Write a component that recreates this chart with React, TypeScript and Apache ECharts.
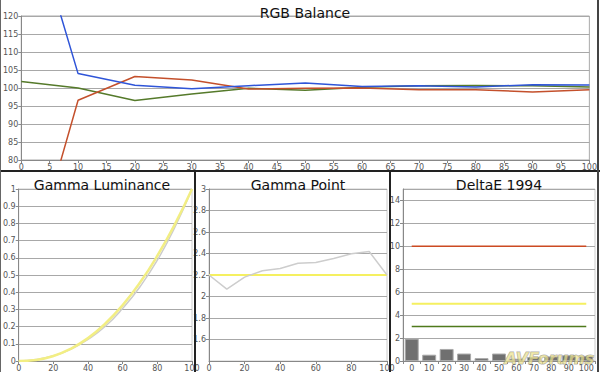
import React, { useEffect, useRef } from "react";
import * as echarts from "echarts";

const rgbX = [0, 10, 20, 30, 40, 50, 60, 70, 80, 90, 100];
const redBal = [41.5, 96.6, 103.2, 102.2, 99.7, 99.9, 100.0, 99.5, 99.5, 98.9, 99.5];
const greenBal = [101.8, 100.0, 96.5, 98.3, 99.9, 99.4, 100.2, 100.6, 100.7, 100.6, 100.3];
const blueBal = [157, 104.0, 100.75, 99.8, 100.65, 101.4, 100.4, 100.6, 100.3, 100.9, 100.85];

const gammaX = [0, 10, 20, 30, 40, 50, 60, 70, 80, 90, 100];
const lumTarget = [0, 0.0063, 0.029, 0.071, 0.133, 0.218, 0.325, 0.456, 0.612, 0.793, 1];
const lumMeasured = [0, 0.0086, 0.03, 0.0675, 0.126, 0.202, 0.306, 0.432, 0.586, 0.775, 1];
const gammaMeasured = [2.2, 2.068, 2.18, 2.24, 2.26, 2.31, 2.317, 2.354, 2.397, 2.418, 2.2];
const gammaTarget = [2.2, 2.2, 2.2, 2.2, 2.2, 2.2, 2.2, 2.2, 2.2, 2.2, 2.2];

const deCats = ["0", "10", "20", "30", "40", "50", "60", "70", "80", "90", "100"];
const deValues = [1.95, 0.55, 1.05, 0.65, 0.25, 0.65, 0.2, 0.35, 0.4, 0.5, 0.45];
const deRed = [10, 10, 10, 10, 10, 10, 10, 10, 10, 10, 10];
const deYellow = [5, 5, 5, 5, 5, 5, 5, 5, 5, 5, 5];
const deGreen = [3, 3, 3, 3, 3, 3, 3, 3, 3, 3, 3];

const FONT = "DejaVu Sans";
const lbl = { color: "#555", fontSize: 8, fontFamily: FONT, margin: 3 };
const gridLine = { show: true, lineStyle: { color: "#a8a8a8", width: 1 } };
const axLine = { show: true, lineStyle: { color: "#888" } };
const axTick = { show: true, length: 3, lineStyle: { color: "#888" } };

const pair = (xs: number[], ys: number[]) => xs.map((x, i) => [x, ys[i]]);

export default function App() {
  const ref = useRef<HTMLDivElement>(null);
  useEffect(() => {
    if (!ref.current) return;
    const chart = echarts.init(ref.current, undefined, { renderer: "svg" });
    const titleStyle = { fontFamily: FONT, fontSize: 14, fontWeight: "normal" as const, color: "#111" };
    chart.setOption({
      animation: false,
      backgroundColor: "#fff",
      title: [
        { text: "RGB Balance", left: 300, top: 1, textAlign: "center", textStyle: titleStyle },
        { text: "Gamma Luminance", left: 97, top: 173, textAlign: "center", textStyle: titleStyle },
        { text: "Gamma Point", left: 293, top: 173, textAlign: "center", textStyle: titleStyle },
        { text: "DeltaE 1994", left: 494, top: 173, textAlign: "center", textStyle: titleStyle },
      ],
      grid: [
        { left: 15, top: 16, width: 580, height: 144, show: true, borderColor: "#aaa", backgroundColor: "transparent" },
        { left: 14, top: 189, width: 178, height: 173, show: true, borderColor: "#ccc", backgroundColor: "transparent" },
        { left: 209, top: 189, width: 178, height: 173, show: true, borderColor: "#ccc", backgroundColor: "transparent" },
        { left: 403, top: 189, width: 192, height: 174, show: true, borderColor: "#ccc", backgroundColor: "transparent" },
      ],
      xAxis: [
        { type: "value", gridIndex: 0, min: 0, max: 100, interval: 5, axisLine: axLine, axisTick: axTick, axisLabel: lbl, splitLine: { show: false } },
        { type: "value", gridIndex: 1, min: 0, max: 100, interval: 20, axisLine: axLine, axisTick: axTick, axisLabel: lbl, splitLine: { show: false } },
        { type: "value", gridIndex: 2, min: 0, max: 100, interval: 20, axisLine: axLine, axisTick: axTick, axisLabel: lbl, splitLine: { show: false } },
        { type: "category", gridIndex: 3, data: deCats, axisLine: axLine, axisTick: { ...axTick, alignWithLabel: false }, axisLabel: { ...lbl, interval: 0 }, splitLine: { show: false } },
      ],
      yAxis: [
        { type: "value", gridIndex: 0, min: 80, max: 120, interval: 5, axisLine: axLine, axisTick: axTick, axisLabel: lbl, splitLine: gridLine },
        { type: "value", gridIndex: 1, min: 0, max: 1, interval: 0.1, axisLine: axLine, axisTick: axTick, axisLabel: lbl, splitLine: gridLine },
        { type: "value", gridIndex: 2, min: 1.4, max: 3, interval: 0.2, axisLine: axLine, axisTick: axTick, axisLabel: { ...lbl, showMinLabel: false }, splitLine: gridLine },
        { type: "value", gridIndex: 3, min: 0, max: 15, interval: 2, axisLine: axLine, axisTick: axTick, axisLabel: { ...lbl, showMaxLabel: false }, splitLine: gridLine },
      ],
      series: [
        { type: "line", xAxisIndex: 0, yAxisIndex: 0, data: pair(rgbX, greenBal), showSymbol: false, lineStyle: { color: "#557a2a", width: 1.5 }, clip: true },
        { type: "line", xAxisIndex: 0, yAxisIndex: 0, data: pair(rgbX, redBal), showSymbol: false, lineStyle: { color: "#c4502c", width: 1.5 }, clip: true },
        { type: "line", xAxisIndex: 0, yAxisIndex: 0, data: pair(rgbX, blueBal), showSymbol: false, lineStyle: { color: "#2f55d8", width: 1.5 }, clip: true },
        { type: "line", xAxisIndex: 1, yAxisIndex: 1, data: pair(gammaX, lumMeasured), showSymbol: false, smooth: true, lineStyle: { color: "#cccccc", width: 1.5 } },
        { type: "line", xAxisIndex: 1, yAxisIndex: 1, data: pair(gammaX, lumTarget), showSymbol: false, smooth: true, lineStyle: { color: "#f2ee84", width: 2.5 } },
        { type: "line", xAxisIndex: 2, yAxisIndex: 2, data: pair(gammaX, gammaTarget), showSymbol: false, lineStyle: { color: "#f5f060", width: 2 } },
        { type: "line", xAxisIndex: 2, yAxisIndex: 2, data: pair(gammaX, gammaMeasured), showSymbol: false, lineStyle: { color: "#cdcdcd", width: 1.5 } },
        { type: "bar", xAxisIndex: 3, yAxisIndex: 3, data: deValues, barCategoryGap: "20%", itemStyle: { color: "#707070", borderColor: "#aaa", borderWidth: 1 } },
        { type: "line", xAxisIndex: 3, yAxisIndex: 3, data: deRed, showSymbol: false, lineStyle: { color: "#cc4a22", width: 1.5 } },
        { type: "line", xAxisIndex: 3, yAxisIndex: 3, data: deYellow, showSymbol: false, lineStyle: { color: "#f5f060", width: 2 } },
        { type: "line", xAxisIndex: 3, yAxisIndex: 3, data: deGreen, showSymbol: false, lineStyle: { color: "#4f7a1c", width: 1.5 } },
      ],
      graphic: [
        { type: "line", shape: { x1: 0, y1: 171, x2: 600, y2: 171 }, style: { stroke: "#222", lineWidth: 2 }, z: 100 },
        { type: "line", shape: { x1: 195, y1: 171, x2: 195, y2: 372 }, style: { stroke: "#222", lineWidth: 2 }, z: 100 },
        { type: "line", shape: { x1: 390, y1: 171, x2: 390, y2: 372 }, style: { stroke: "#222", lineWidth: 2 }, z: 100 },
        { type: "line", shape: { x1: 598, y1: 0, x2: 598, y2: 372 }, style: { stroke: "#444", lineWidth: 2 }, z: 100 },
        { type: "line", shape: { x1: 0.5, y1: 0, x2: 0.5, y2: 372 }, style: { stroke: "#666", lineWidth: 1 }, z: 100 },
        {
          type: "text", left: 504, top: 350, z: 100,
          style: { text: "AVForums", fontSize: 16, fontStyle: "italic", fontWeight: "bold", fontFamily: FONT, fill: "rgba(235,225,140,0.7)", stroke: "rgba(120,120,120,0.6)", lineWidth: 1 },
        },
      ],
    });
    return () => chart.dispose();
  }, []);
  return <div ref={ref} style={{ position: "fixed", left: 0, top: 0, width: 600, height: 372 }} />;
}
